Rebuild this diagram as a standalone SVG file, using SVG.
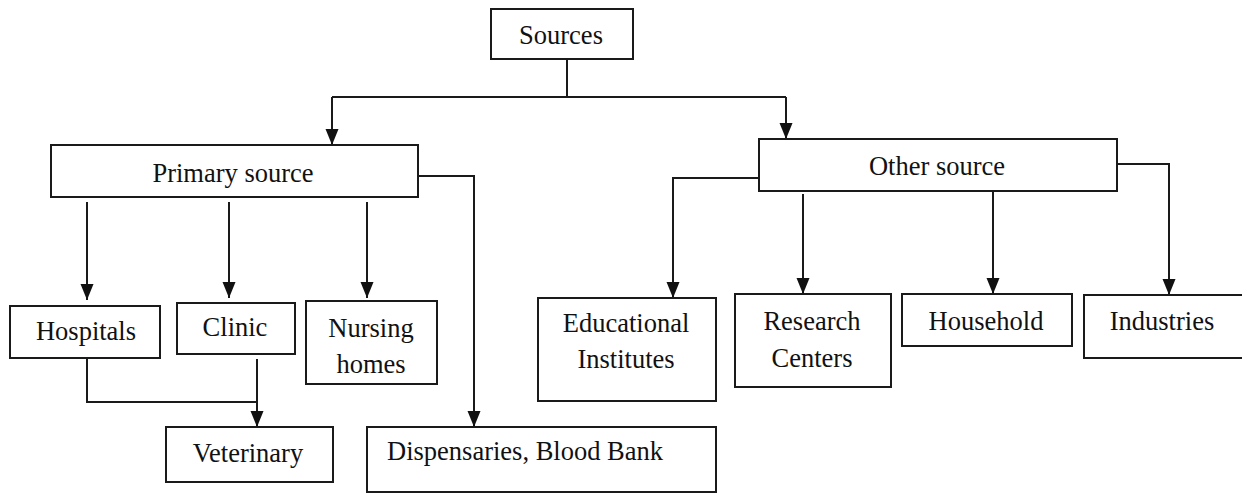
<svg xmlns="http://www.w3.org/2000/svg" width="1242" height="493" viewBox="0 0 1242 493">
<style>
.box{fill:#fff;stroke:#1a1a1a;stroke-width:2}
.lbl{font-family:'Liberation Serif','DejaVu Serif',serif;font-size:26.5px;fill:#111;text-anchor:middle}
.ln{fill:none;stroke:#1a1a1a;stroke-width:2}
</style>
<defs>
<marker id="ah" markerUnits="userSpaceOnUse" markerWidth="16" markerHeight="14" refX="16" refY="7" orient="auto">
<path d="M0,0.5 L16,7 L0,13.5 z" fill="#111"/>
</marker>
</defs>
<rect width="1242" height="493" fill="#fff"/>
<g id="connectors">
<path class="ln" d="M567 59 V97"/>
<path class="ln" d="M332 97 H786"/>
<path class="ln" d="M332 97 V145" marker-end="url(#ah)"/>
<path class="ln" d="M786 97 V139" marker-end="url(#ah)"/>
<path class="ln" d="M87 202 V300" marker-end="url(#ah)"/>
<path class="ln" d="M229 202 V298" marker-end="url(#ah)"/>
<path class="ln" d="M367 202 V298" marker-end="url(#ah)"/>
<path class="ln" d="M418 176 H474 V427" marker-end="url(#ah)"/>
<path class="ln" d="M87 358 V402 H257"/>
<path class="ln" d="M257 359 V427" marker-end="url(#ah)"/>
<path class="ln" d="M759 178 H673 V298" marker-end="url(#ah)"/>
<path class="ln" d="M803 194 V294" marker-end="url(#ah)"/>
<path class="ln" d="M993 191 V294" marker-end="url(#ah)"/>
<path class="ln" d="M1117 164 H1169 V295" marker-end="url(#ah)"/>
</g>
<g id="sources"><rect class="box" x="491" y="9" width="142" height="50"/><text class="lbl" x="561" y="44">Sources</text></g>
<g id="primary"><rect class="box" x="51" y="145" width="367" height="52"/><text class="lbl" x="233" y="182">Primary source</text></g>
<g id="other"><rect class="box" x="759" y="139" width="358" height="52"/><text class="lbl" x="937" y="175">Other source</text></g>
<g id="hospitals"><rect class="box" x="10" y="306" width="150" height="52"/><text class="lbl" x="86" y="340">Hospitals</text></g>
<g id="clinic"><rect class="box" x="177" y="303" width="118" height="51"/><text class="lbl" x="235" y="336">Clinic</text></g>
<g id="nursing"><rect class="box" x="306" y="301" width="131" height="83"/><text class="lbl" x="371" y="337">Nursing</text><text class="lbl" x="371" y="373">homes</text></g>
<g id="veterinary"><rect class="box" x="166" y="427" width="167" height="55"/><text class="lbl" x="248" y="462">Veterinary</text></g>
<g id="dispensaries"><rect class="box" x="367" y="427" width="349" height="65"/><text class="lbl" x="387" y="460" style="text-anchor:start">Dispensaries, Blood Bank</text></g>
<g id="educational"><rect class="box" x="538" y="298" width="178" height="103"/><text class="lbl" x="626" y="332">Educational</text><text class="lbl" x="626" y="368">Institutes</text></g>
<g id="research"><rect class="box" x="735" y="294" width="156" height="93"/><text class="lbl" x="812" y="330">Research</text><text class="lbl" x="812" y="367">Centers</text></g>
<g id="household"><rect class="box" x="902" y="294" width="170" height="52"/><text class="lbl" x="986" y="330">Household</text></g>
<g id="industries"><rect class="box" x="1084" y="295" width="165" height="63"/><text class="lbl" x="1162" y="330">Industries</text></g>
</svg>
